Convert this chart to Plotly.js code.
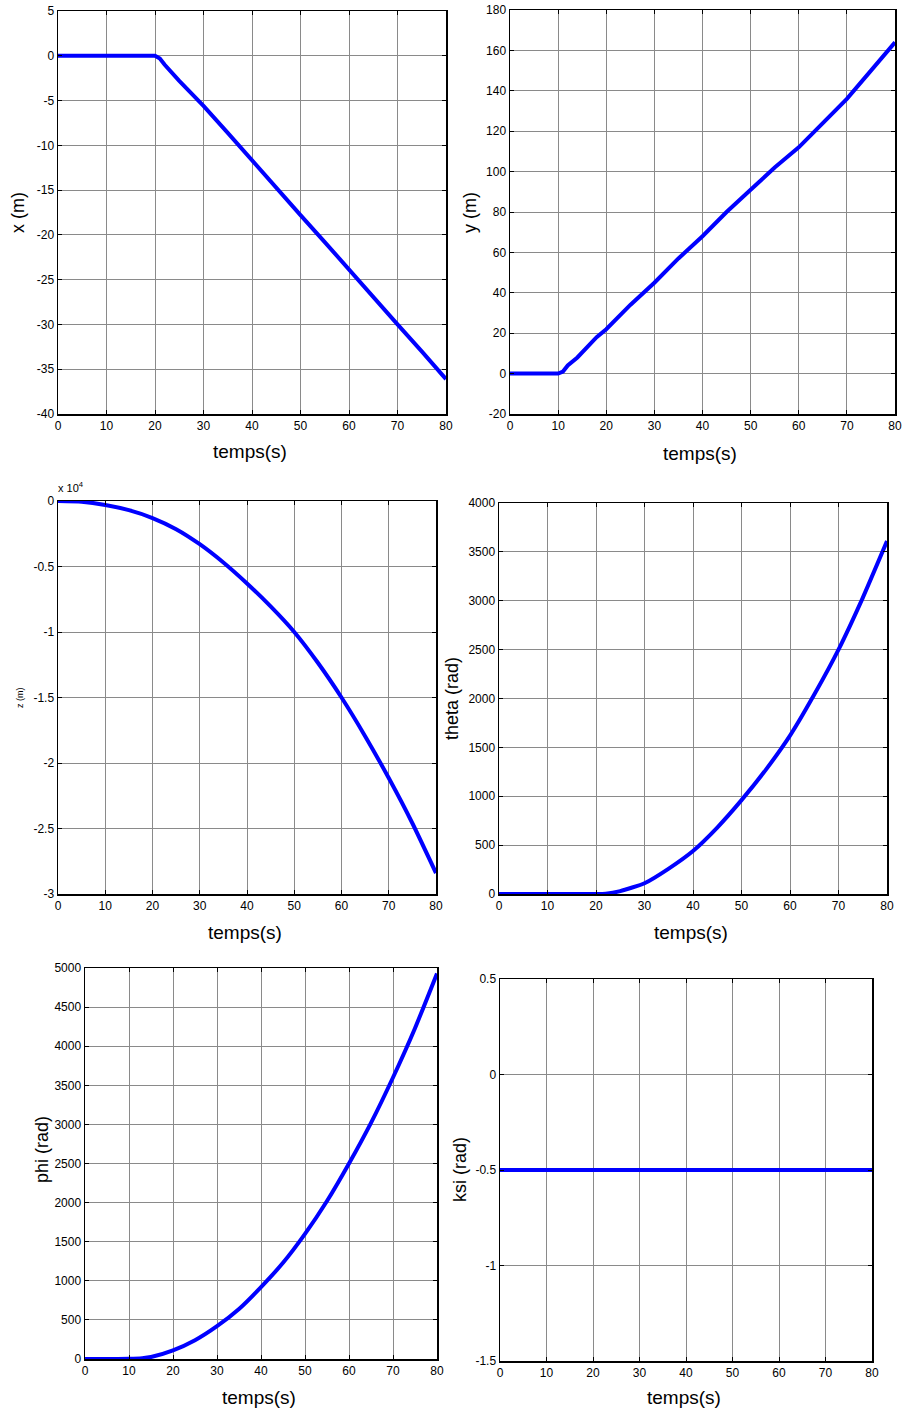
<!DOCTYPE html>
<html>
<head>
<meta charset="utf-8">
<script src="https://cdn.plot.ly/plotly-3.0.1.min.js"></script>
<style>html,body{margin:0;padding:0;background:#fff;}#chart{width:906px;height:1414px;}</style>
</head>
<body>
<div id="chart"></div>
<script>
// ---- data ----
const tX = [0, 5, 10, 15, 20, 21, 22, 25, 30, 35, 40, 45, 50, 55, 60, 65, 70, 75, 80];
const xVals = [0, 0, 0, 0, 0, -0.3, -1.0, -2.8, -5.6, -8.6, -11.7, -14.7, -17.8, -20.8, -23.9, -26.9, -30.0, -33.0, -36.1];

const tY = [0, 5, 10, 11, 12, 14, 16, 18, 20, 25, 30, 35, 40, 45, 50, 55, 60, 65, 70, 75, 80];
const yVals = [0, 0, 0, 1, 4, 8, 13, 18, 22, 34, 45, 57, 68, 80, 91, 102, 112, 124, 136, 150, 164];

const tZ = [0, 5, 10, 15, 20, 25, 30, 35, 40, 45, 50, 55, 60, 65, 70, 75, 80];
const zVals = [0, -50, -300, -700, -1300, -2150, -3300, -4700, -6300, -8050, -10000, -12350, -15000, -17950, -21150, -24600, -28400];

const tTheta = [0, 10, 20, 22, 25, 30, 35, 40, 45, 50, 55, 60, 65, 70, 75, 80];
const thetaVals = [0, 0, 0, 3, 30, 110, 260, 440, 680, 960, 1270, 1620, 2040, 2500, 3030, 3610];

const tPhi = [0, 5, 10, 13, 15, 20, 25, 30, 35, 40, 45, 50, 55, 60, 65, 70, 75, 80];
const phiVals = [0, 0, 2, 10, 25, 110, 240, 420, 640, 920, 1230, 1600, 2020, 2500, 3020, 3600, 4230, 4930];

const tKsi = [0, 80];
const ksiVals = [-0.5, -0.5];

const timeTicks = [0, 10, 20, 30, 40, 50, 60, 70, 80];
const xTicks = [5, 0, -5, -10, -15, -20, -25, -30, -35, -40];
const yTicks = [180, 160, 140, 120, 100, 80, 60, 40, 20, 0, -20];
const zTicks = [0, -5000, -10000, -15000, -20000, -25000, -30000];
const zTickLabels = ['0', '-0.5', '-1', '-1.5', '-2', '-2.5', '-3'];
const thetaTicks = [0, 500, 1000, 1500, 2000, 2500, 3000, 3500, 4000];
const phiTicks = [0, 500, 1000, 1500, 2000, 2500, 3000, 3500, 4000, 4500, 5000];
const ksiTicks = [0.5, 0, -0.5, -1, -1.5];
const ksiTickLabels = ['0.5', '0', '-0.5', '-1', '-1.5'];

const xTitle = 'temps(s)';
const yTitles = ['x (m)', 'y (m)', 'z (m)', 'theta (rad)', 'phi (rad)', 'ksi (rad)'];

// ---- layout geometry (pixels) ----
const W = 906, H = 1414;
const boxes = [
  {l: 58, r: 446, t: 11, b: 414},
  {l: 510, r: 895, t: 10, b: 414},
  {l: 58, r: 436, t: 501, b: 894},
  {l: 499, r: 887, t: 503, b: 894},
  {l: 85, r: 437, t: 968, b: 1359},
  {l: 500, r: 872, t: 979, b: 1361}
];
const xLabPos = [[250, 452], [700, 453], [245, 932], [691, 932], [259, 1397], [684, 1397]];
const yLabPos = [[18, 213, 18], [470, 213, 18], [20, 698, 9], [452, 699, 18], [42, 1150, 18], [460, 1170, 18]];

const series = [
  [tX, xVals, [-40, 5], xTicks, null, 'linear'],
  [tY, yVals, [-20, 180], yTicks, null, 'linear'],
  [tZ, zVals, [-30000, 0], zTicks, zTickLabels, 'spline'],
  [tTheta, thetaVals, [0, 4000], thetaTicks, null, 'spline'],
  [tPhi, phiVals, [0, 5000], phiTicks, null, 'spline'],
  [tKsi, ksiVals, [-1.5, 0.5], ksiTicks, ksiTickLabels, 'linear']
];

const font = 'Liberation Sans, Arial, sans-serif';
const data = [];
const layout = {
  width: W, height: H,
  margin: {l: 0, r: 0, t: 0, b: 0},
  paper_bgcolor: '#fff', plot_bgcolor: '#fff',
  showlegend: false,
  font: {family: font, size: 12, color: '#000'},
  annotations: []
};

series.forEach((s, i) => {
  const n = i + 1;
  const xa = 'x' + (n === 1 ? '' : n), ya = 'y' + (n === 1 ? '' : n);
  const line = {color: '#0000ff', width: 4, shape: s[5]};
  if (s[5] === 'spline') line.smoothing = 0.5;
  data.push({x: s[0], y: s[1], xaxis: xa, yaxis: ya, mode: 'lines', type: 'scatter',
             line: line, hoverinfo: 'skip'});
  const b = boxes[i];
  const common = {
    showline: true, linecolor: '#000', linewidth: 1.5, mirror: 'allticks',
    ticks: 'inside', ticklen: 4, tickcolor: '#000', tickwidth: 1,
    showgrid: true, gridcolor: '#8a8a8a', gridwidth: 1,
    zeroline: false, tickfont: {family: font, size: 12, color: '#000'}, fixedrange: true
  };
  layout['xaxis' + (n === 1 ? '' : n)] = Object.assign({}, common, {
    domain: [b.l / W, b.r / W], anchor: ya, range: [0, 80],
    tickmode: 'array', tickvals: timeTicks, ticktext: timeTicks.map(String)
  });
  const yax = Object.assign({}, common, {
    domain: [1 - b.b / H, 1 - b.t / H], anchor: xa, range: s[2],
    tickmode: 'array', tickvals: s[3]
  });
  yax.ticktext = s[4] ? s[4] : s[3].map(String);
  layout['yaxis' + (n === 1 ? '' : n)] = yax;

  layout.annotations.push({xref: 'paper', yref: 'paper', x: xLabPos[i][0] / W, y: 1 - xLabPos[i][1] / H,
    text: xTitle, showarrow: false, xanchor: 'center', yanchor: 'middle',
    font: {family: font, size: 19, color: '#000'}});
  const yl = yLabPos[i];
  layout.annotations.push({xref: 'paper', yref: 'paper', x: yl[0] / W, y: 1 - yl[1] / H,
    text: yTitles[i], showarrow: false, textangle: -90, xanchor: 'center', yanchor: 'middle',
    font: {family: font, size: yl[2], color: '#000'}});
});

// exponent label of the z axis
layout.annotations.push({xref: 'paper', yref: 'paper', x: 56 / W, y: 1 - 487 / H,
  text: 'x 10<sup>4</sup>', showarrow: false, xanchor: 'left', yanchor: 'middle',
  font: {family: font, size: 11, color: '#000'}});

Plotly.newPlot('chart', data, layout, {staticPlot: true, displayModeBar: false});
</script>
</body>
</html>
